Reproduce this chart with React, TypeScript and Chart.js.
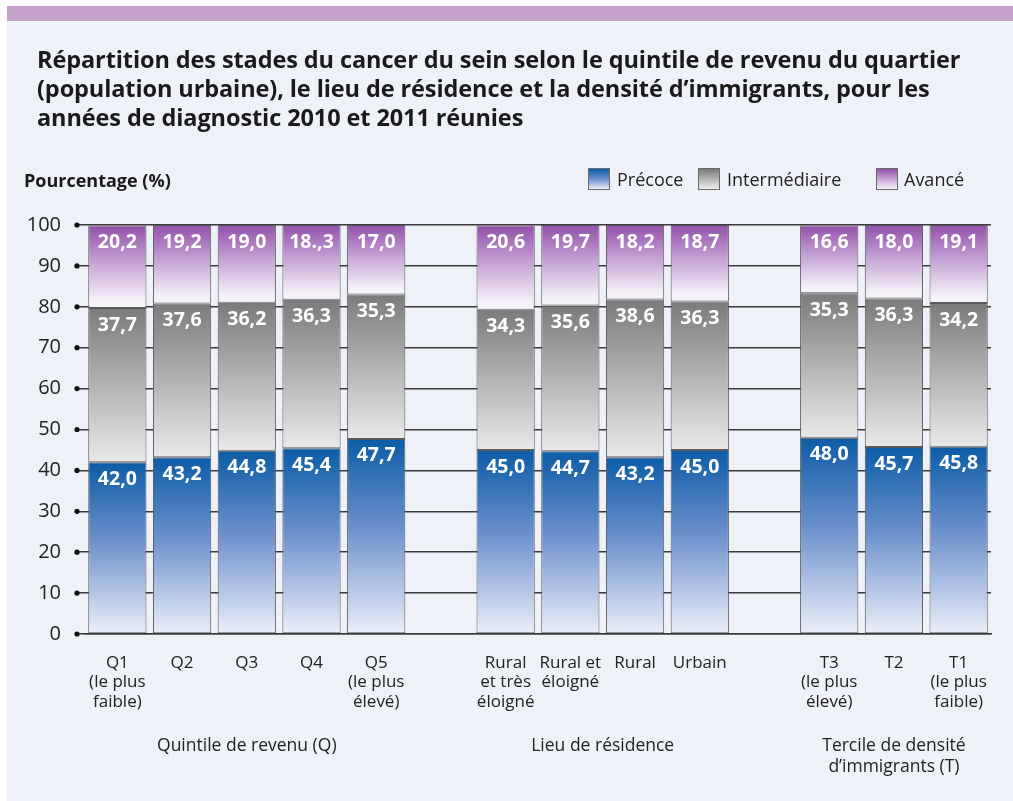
import React, { useEffect, useRef } from "react";
import { Chart, registerables } from "chart.js";

Chart.register(...registerables);

const categories: (string | string[])[] = [
  ["Q1", "(le plus", "faible)"],
  "Q2",
  "Q3",
  "Q4",
  ["Q5", "(le plus", "élevé)"],
  "",
  ["Rural", "et très", "éloigné"],
  ["Rural et", "éloigné"],
  "Rural",
  "Urbain",
  "",
  ["T3", "(le plus", "élevé)"],
  "T2",
  ["T1", "(le plus", "faible)"],
];

// values as drawn (segment heights)
const precoce = [42.0, 43.2, 44.8, 45.4, 47.7, null, 45.0, 44.7, 43.2, 45.0, null, 48.0, 45.7, 45.8];
const intermediaire = [37.7, 37.6, 36.2, 36.3, 35.3, null, 34.3, 35.6, 38.6, 36.3, null, 35.3, 36.3, 35.1];
const avance = [20.2, 19.2, 19.0, 18.3, 17.0, null, 20.6, 19.7, 18.2, 18.7, null, 16.6, 18.0, 19.1];

// value labels as printed in the figure
const precoceLabels = ["42,0", "43,2", "44,8", "45,4", "47,7", "", "45,0", "44,7", "43,2", "45,0", "", "48,0", "45,7", "45,8"];
const intermediaireLabels = ["37,7", "37,6", "36,2", "36,3", "35,3", "", "34,3", "35,6", "38,6", "36,3", "", "35,3", "36,3", "34,2"];
const avanceLabels = ["20,2", "19,2", "19,0", "18.,3", "17,0", "", "20,6", "19,7", "18,2", "18,7", "", "16,6", "18,0", "19,1"];

const groups = [
  { from: 0, to: 4, lines: ["Quintile de revenu (Q)"] },
  { from: 6, to: 9, lines: ["Lieu de résidence"] },
  { from: 11, to: 13, lines: ["Tercile de densité", "d’immigrants (T)"] },
];

const titleLines = [
  "Répartition des stades du cancer du sein selon le quintile de revenu du quartier",
  "(population urbaine), le lieu de résidence et la densité d’immigrants, pour les",
  "années de diagnostic 2010 et 2011 réunies",
];

const yTicks = [0, 10, 20, 30, 40, 50, 60, 70, 80, 90, 100];

const seriesNames = ["Précoce", "Intermédiaire", "Avancé"];
const seriesLabels = [precoceLabels, intermediaireLabels, avanceLabels];
const gradientStops: [number, string][][] = [
  [[0, "#0b5ca6"], [0.45, "#6b8fcb"], [1, "#ebeff9"]],
  [[0, "#7b7b7b"], [0.5, "#b3b3b3"], [1, "#e9e9ea"]],
  [[0, "#9250aa"], [0.45, "#c5a3d4"], [0.9, "#f4f0f8"], [1, "#f6f3f9"]],
];
const cssGradients = [
  "linear-gradient(#0b5ca6, #6b8fcb 50%, #ebeff9)",
  "linear-gradient(#7b7b7b, #b3b3b3 50%, #ededed)",
  "linear-gradient(#9250aa, #c5a3d4 50%, #f6f3f9)",
];

const FONT = "'Open Sans', 'DejaVu Sans', sans-serif";

function makeBg(dsIndex: number) {
  return (ctx: any) => {
    const chart = ctx.chart;
    const area = chart.chartArea;
    const stops = gradientStops[dsIndex];
    if (!area || ctx.type !== "data") return stops[0][1];
    const all = chart.data.datasets;
    const i = ctx.dataIndex;
    let base = 0;
    for (let d = 0; d < dsIndex; d++) base += (all[d].data[i] as number) || 0;
    const v = (all[dsIndex].data[i] as number) || 0;
    const y = chart.scales.y;
    const yTop = y.getPixelForValue(base + v);
    const yBot = y.getPixelForValue(base);
    if (!isFinite(yTop) || !isFinite(yBot) || yTop === yBot) return stops[0][1];
    const g = chart.ctx.createLinearGradient(0, yTop, 0, yBot);
    stops.forEach(([o, c]) => g.addColorStop(o, c));
    return g;
  };
}

const extrasPlugin = {
  id: "extras",
  afterDraw(chart: any) {
    const { ctx, chartArea, scales } = chart;
    const y = scales.y;
    const x = scales.x;
    ctx.save();
    // tick dots
    ctx.fillStyle = "#111";
    yTicks.forEach((t) => {
      ctx.beginPath();
      ctx.arc(chartArea.left - 8, y.getPixelForValue(t), 2.6, 0, Math.PI * 2);
      ctx.fill();
    });
    // value labels
    ctx.fillStyle = "#ffffff";
    ctx.font = `bold 19.5px ${FONT}`;
    ctx.textAlign = "center";
    ctx.textBaseline = "middle";
    chart.data.datasets.forEach((ds: any, di: number) => {
      const meta = chart.getDatasetMeta(di);
      meta.data.forEach((el: any, i: number) => {
        const v = ds.data[i];
        if (v == null) return;
        ctx.fillText(seriesLabels[di][i], el.x, el.y + 17);
      });
    });
    // group titles
    ctx.fillStyle = "#222";
    ctx.font = `17.5px ${FONT}`;
    groups.forEach((g) => {
      const cx = (x.getPixelForValue(g.from) + x.getPixelForValue(g.to)) / 2;
      g.lines.forEach((l, k) => ctx.fillText(l, cx, 746 + k * 21));
    });
    ctx.restore();
  },
};

export default function App() {
  const ref = useRef<HTMLCanvasElement>(null);
  useEffect(() => {
    if (!ref.current) return;
    const datasets = [precoce, intermediaire, avance].map((d, i) => ({
      label: seriesNames[i],
      data: d,
      backgroundColor: makeBg(i),
      borderColor: "#5a5a5a",
      borderWidth: 1,
      borderSkipped: false,
      barPercentage: 0.9,
      categoryPercentage: 1.0,
    }));
    const chart = new Chart(ref.current, {
      type: "bar",
      data: { labels: categories as any, datasets: datasets as any },
      options: {
        responsive: false,
        animation: false,
        events: [],
        layout: { padding: { top: 225, right: 22, left: 0, bottom: 0 } },
        plugins: {
          legend: { display: false },
          title: { display: false },
          tooltip: { enabled: false },
        },
        scales: {
          x: {
            stacked: true,
            grid: { display: false, drawTicks: false },
            border: { display: true, color: "#3a3a3a", width: 1.5 },
            ticks: {
              color: "#222",
              font: { family: FONT, size: 17, lineHeight: 1.15 },
              padding: 19,
              maxRotation: 0,
              autoSkip: false,
            },
            afterFit: (s: any) => {
              s.height = 801 - 634;
            },
          },
          y: {
            stacked: true,
            min: 0,
            max: 100,
            afterBuildTicks: (s: any) => {
              s.ticks = yTicks.map((v) => ({ value: v }));
            },
            grid: { color: "#3a3a3a", lineWidth: 1.5, drawTicks: true, tickLength: 7 },
            border: { display: false },
            ticks: {
              color: "#222",
              font: { family: FONT, size: 20 },
              padding: 17,
            },
            afterFit: (s: any) => {
              s.width = 85;
            },
          },
        },
      },
      plugins: [extrasPlugin],
    });
    return () => chart.destroy();
  }, []);

  return (
    <div style={{ position: "absolute", left: 0, top: 0, width: 1013, height: 801, background: "#ffffff", overflow: "hidden" }}>
      <div style={{ position: "absolute", left: 7, top: 6, width: 1006, height: 795, background: "#eff1f9" }} />
      <div style={{ position: "absolute", left: 7, top: 6, width: 1006, height: 15, background: "#c5a0cb" }} />
      <canvas ref={ref} width={1013} height={801} style={{ position: "absolute", left: 0, top: 0 }} />
      <div
        style={{
          position: "absolute",
          left: 37,
          top: 45,
          fontFamily: FONT,
          fontWeight: 700,
          fontSize: 23.5,
          lineHeight: "29px",
          color: "#1a1a1a",
          letterSpacing: "-0.1px",
          whiteSpace: "nowrap",
        }}
      >
        {titleLines.map((l, i) => (
          <div key={i}>{l}</div>
        ))}
      </div>
      <div
        style={{
          position: "absolute",
          left: 24,
          top: 167,
          fontFamily: FONT,
          fontWeight: 700,
          fontSize: 18,
          lineHeight: "26px",
          color: "#1a1a1a",
          whiteSpace: "nowrap",
        }}
      >
        Pourcentage (%)
      </div>
      {[
        { box: 588, text: 617 },
        { box: 698, text: 727 },
        { box: 876, text: 904 },
      ].map((p, i) => (
        <React.Fragment key={i}>
          <div
            style={{
              position: "absolute",
              left: p.box,
              top: 168,
              width: 20,
              height: 20,
              border: "1px solid #6a6a6a",
              background: cssGradients[i],
            }}
          />
          <div
            style={{
              position: "absolute",
              left: p.text,
              top: 166,
              fontFamily: FONT,
              fontSize: 18,
              lineHeight: "26px",
              color: "#222",
              whiteSpace: "nowrap",
            }}
          >
            {seriesNames[i]}
          </div>
        </React.Fragment>
      ))}
    </div>
  );
}
